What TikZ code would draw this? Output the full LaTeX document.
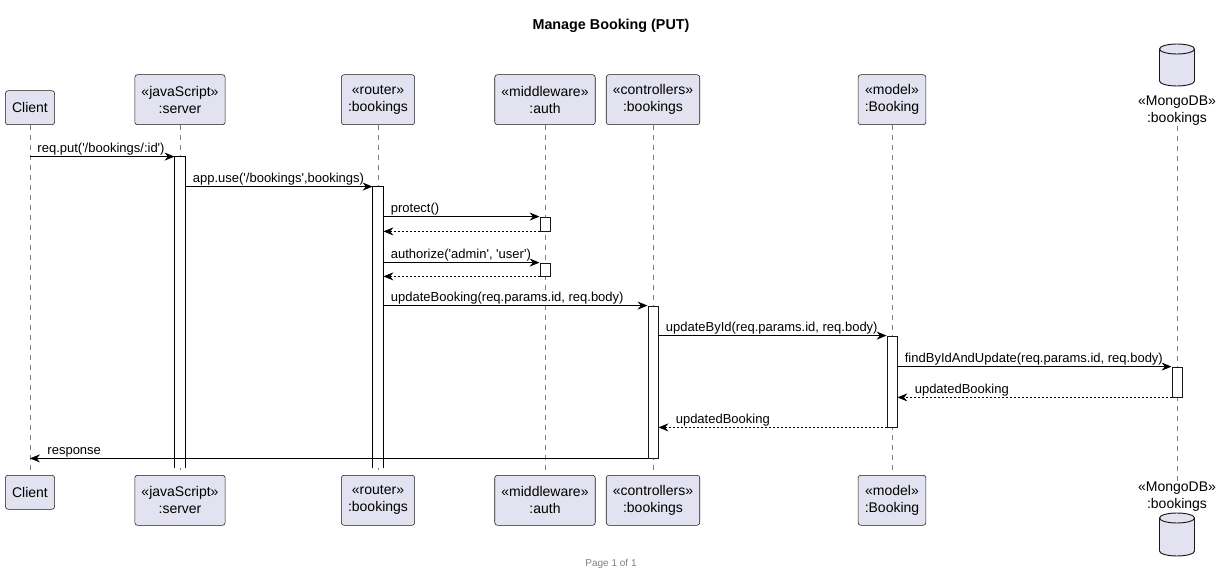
\documentclass[tikz,border=0pt]{standalone}
\usepackage{fontspec}
\setmainfont{Liberation Sans}[Ligatures=TeXOff]
\usetikzlibrary{fit,arrows.meta}

\definecolor{boxfill}{HTML}{E2E2F0}
\definecolor{boxline}{HTML}{181818}

\tikzstyle{block} = [rectangle, draw=boxline, fill=boxfill, align=center, rounded corners=2pt, inner xsep=5pt, inner ysep=2pt, font=\fontsize{10.5}{12.75}\selectfont]
\tikzstyle{db} = [draw=boxline, fill=boxfill, line width=0.7pt]
\tikzstyle{dblabel} = [align=center, inner sep=0pt, font=\fontsize{10.5}{12.75}\selectfont]
\tikzstyle{lifeline} = [draw, gray, line width=0.4pt, dash pattern=on 3.75pt off 3.75pt]
\tikzstyle{bar} = [rectangle, draw=boxline, fill=white, inner sep=0pt, line width=0.6pt]
\tikzstyle{arrow} = [draw, -{Stealth[length=7.5pt, width=6pt, inset=2.5pt]}, line width=0.7pt]
\tikzstyle{reply} = [draw, -{Stealth[length=7.5pt, width=6pt, inset=2.5pt]}, line width=0.6pt, dash pattern=on 1.5pt off 1.5pt]
\tikzstyle{line} = [draw, line width=0.6pt]
\tikzstyle{msg} = [anchor=base west, inner sep=0pt, xshift=5.25pt, yshift=3pt, font=\fontsize{9.75}{11}\selectfont]
\tikzstyle{rmsg} = [anchor=base west, inner sep=0pt, xshift=12.75pt, yshift=3pt, font=\fontsize{9.75}{11}\selectfont]

\begin{document}
\begin{tikzpicture}[x=0.75pt, y=-0.75pt]
    \useasboundingbox (0,0) rectangle (1218,577);

    \node[font=\bfseries\fontsize{10.75}{12.75}\selectfont] (title) at (611,26) {Manage Booking (PUT)};

    % participants, top
    \node[block, anchor=south, minimum height=25.5pt] (cli) at (30,125) {Client};
    \node[block, anchor=south, minimum height=37.5pt] (srv) at (180,125) {«javaScript»\\:server};
    \node[block, anchor=south, minimum height=37.5pt] (rtr) at (378,125) {«router»\\:bookings};
    \node[block, anchor=south, minimum height=37.5pt] (auth) at (545,125) {«middleware»\\:auth};
    \node[block, anchor=south, minimum height=37.5pt] (ctl) at (653,125) {«controllers»\\:bookings};
    \node[block, anchor=south, minimum height=37.5pt] (mdl) at (892,125) {«model»\\:Booking};
    \node[dblabel, anchor=south] (dbl) at (1177,126) {«MongoDB»\\:bookings};
    \coordinate (dbtop) at (1177,49);
    \draw[db] ([xshift=-13.125pt]dbtop) -- ++(0,-24pt) arc[start angle=180, end angle=360, x radius=13.125pt, y radius=3.75pt] -- ++(0,24pt) arc[start angle=0, end angle=180, x radius=13.125pt, y radius=3.75pt] -- cycle;
    \draw[db, fill=none] ([xshift=-13.125pt]dbtop) arc[start angle=180, end angle=360, x radius=13.125pt, y radius=3.75pt];

    % participants, bottom
    \node[block, anchor=north, minimum height=25.5pt] (cli2) at (30,475) {Client};
    \node[block, anchor=north, minimum height=37.5pt] (srv2) at (180,475) {«javaScript»\\:server};
    \node[block, anchor=north, minimum height=37.5pt] (rtr2) at (378,475) {«router»\\:bookings};
    \node[block, anchor=north, minimum height=37.5pt] (auth2) at (545,475) {«middleware»\\:auth};
    \node[block, anchor=north, minimum height=37.5pt] (ctl2) at (653,475) {«controllers»\\:bookings};
    \node[block, anchor=north, minimum height=37.5pt] (mdl2) at (892,475) {«model»\\:Booking};
    \node[dblabel, anchor=north] (dbl2) at (1177,482) {«MongoDB»\\:bookings};
    \coordinate (dbbot) at (1177,518);
    \draw[db] ([xshift=-13.125pt]dbbot) -- ++(0,-24.75pt) arc[start angle=180, end angle=360, x radius=13.125pt, y radius=3.75pt] -- ++(0,24.75pt) arc[start angle=0, end angle=180, x radius=13.125pt, y radius=3.75pt] -- cycle;
    \draw[db, fill=none] ([xshift=-13.125pt]dbbot) arc[start angle=180, end angle=360, x radius=13.125pt, y radius=3.75pt];

    % lifelines
    \draw[lifeline] (cli) -- (cli2);
    \draw[lifeline] (srv) -- (srv2);
    \draw[lifeline] (rtr) -- (rtr2);
    \draw[lifeline] (auth) -- (auth2);
    \draw[lifeline] (ctl) -- (ctl2);
    \draw[lifeline] (mdl) -- (mdl2);
    \draw[lifeline] (dbl) -- (dbl2);

    % activations
    \node[bar, draw=none, fit={(175,157) (185,468)}] (srvbar) {};
    \draw[line] (srvbar.south west) |- (srvbar.north east) -- (srvbar.south east);
    \node[bar, draw=none, fit={(373,187) (383,468)}] (rtrbar) {};
    \draw[line] (rtrbar.south west) |- (rtrbar.north east) -- (rtrbar.south east);
    \node[bar, fit={(540,217) (550,231)}] (authbar1) {};
    \node[bar, fit={(540,263) (550,276)}] (authbar2) {};
    \node[bar, fit={(648,306) (658,458)}] (ctlbar) {};
    \node[bar, fit={(887,336) (897,427)}] (mdlbar) {};
    \node[bar, fit={(1172,367) (1182,397)}] (dbbar) {};

    % messages
    \draw[arrow] (cli |- srvbar.north) -- node[msg, pos=0] {req.put('/bookings/:id')} (srvbar.north west);
    \draw[arrow] (srvbar.east |- rtrbar.north) -- node[msg, pos=0] {app.use('/bookings',bookings)} (rtrbar.north west);
    \draw[arrow] (rtrbar.east |- authbar1.north) -- node[msg, pos=0] {protect()} (authbar1.north west);
    \draw[reply] (authbar1.south west) -- (rtrbar.east |- authbar1.south);
    \draw[arrow] (rtrbar.east |- authbar2.north) -- node[msg, pos=0] {authorize('admin', 'user')} (authbar2.north west);
    \draw[reply] (authbar2.south west) -- (rtrbar.east |- authbar2.south);
    \draw[arrow] (rtrbar.east |- ctlbar.north) -- node[msg, pos=0] {updateBooking(req.params.id, req.body)} (ctlbar.north west);
    \draw[arrow] (ctlbar.east |- mdlbar.north) -- node[msg, pos=0] {updateById(req.params.id, req.body)} (mdlbar.north west);
    \draw[arrow] (mdlbar.east |- dbbar.north) -- node[msg, pos=0] {findByIdAndUpdate(req.params.id, req.body)} (dbbar.north west);
    \draw[reply] (dbbar.south west) -- node[rmsg, pos=1] {updatedBooking} (mdlbar.east |- dbbar.south);
    \draw[reply] (mdlbar.south west) -- node[rmsg, pos=1] {updatedBooking} (ctlbar.east |- mdlbar.south);
    \draw[arrow] (ctlbar.south west) -- node[rmsg, pos=1] {response} (cli |- ctlbar.south);

    \node[text=gray, font=\fontsize{7.5}{9}\selectfont] (page) at (611,564) {Page 1 of 1};
\end{tikzpicture}
\end{document}
